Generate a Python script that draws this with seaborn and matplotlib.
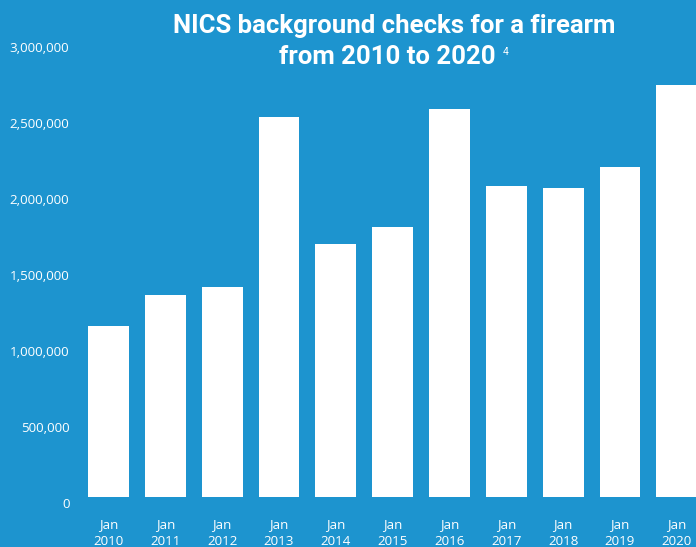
import matplotlib
matplotlib.use("Agg")
import matplotlib.pyplot as plt
import matplotlib.transforms as mtransforms
import seaborn as sns
import pandas as pd

years = ["2010", "2011", "2012", "2013", "2014", "2015", "2016", "2017", "2018", "2019", "2020"]
checks = [1124000, 1328000, 1381000, 2498000, 1663000, 1775000, 2551000, 2045000, 2032000, 2170000, 2709000]
tick_values = [0, 500000, 1000000, 1500000, 2000000, 2500000, 3000000]
tick_labels = ["0", "500,000", "1,000,000", "1,500,000", "2,000,000", "2,500,000", "3,000,000"]
x_labels = ["Jan\n" + y for y in years]

BG = "#1d94cf"
FG = "#ffffff"

sns.set_style("white")
plt.rcParams["font.family"] = ["Open Sans", "DejaVu Sans"]

W, H = 696, 547
fig = plt.figure(figsize=(W / 100, H / 100), dpi=100)
fig.patch.set_facecolor(BG)

left_px, right_px = 75, 696
bottom_px, top_px = 497, 40.7
ax = fig.add_axes([left_px / W, (H - bottom_px) / H, (right_px - left_px) / W, (bottom_px - top_px) / H])
ax.set_facecolor(BG)

df = pd.DataFrame({"label": x_labels, "checks": checks})
sns.barplot(data=df, x="label", y="checks", color=FG, width=0.72, saturation=1, ax=ax, edgecolor="none")

unit = 56.83
ax.set_xlim(-(108.5 - left_px) / unit, 10 + (right_px - 676.8) / unit)
ax.set_ylim(0, 3000000)
ax.set_yticks(tick_values)
ax.set_yticklabels(tick_labels)
ax.set_xlabel("")
ax.set_ylabel("")
ax.grid(False)
for s in ax.spines.values():
    s.set_visible(False)
ax.tick_params(axis="both", length=0, colors=FG, labelsize=9.6)
ax.tick_params(axis="y", pad=4)
ax.tick_params(axis="x", pad=15)
for lab in ax.get_xticklabels():
    lab.set_linespacing(1.45)
offset = mtransforms.ScaledTranslation(0, -6 / 100, fig.dpi_scale_trans)
for lab in ax.get_yticklabels():
    lab.set_transform(lab.get_transform() + offset)

title_font = ["Roboto", "DejaVu Sans"]
fig.text(394.5 / W, 1 - 33 / H, "NICS background checks for a firearm", ha="center", va="baseline",
         color=FG, fontsize=18.5, fontweight="bold", family=title_font)
fig.text(387.5 / W, 1 - 64 / H, "from 2010 to 2020", ha="center", va="baseline",
         color=FG, fontsize=18.5, fontweight="bold", family=title_font)
fig.text(503 / W, 1 - 55 / H, "4", ha="left", va="baseline", color=FG, fontsize=7.5, family=title_font)

fig.savefig("out.png", dpi=100, facecolor=BG)
